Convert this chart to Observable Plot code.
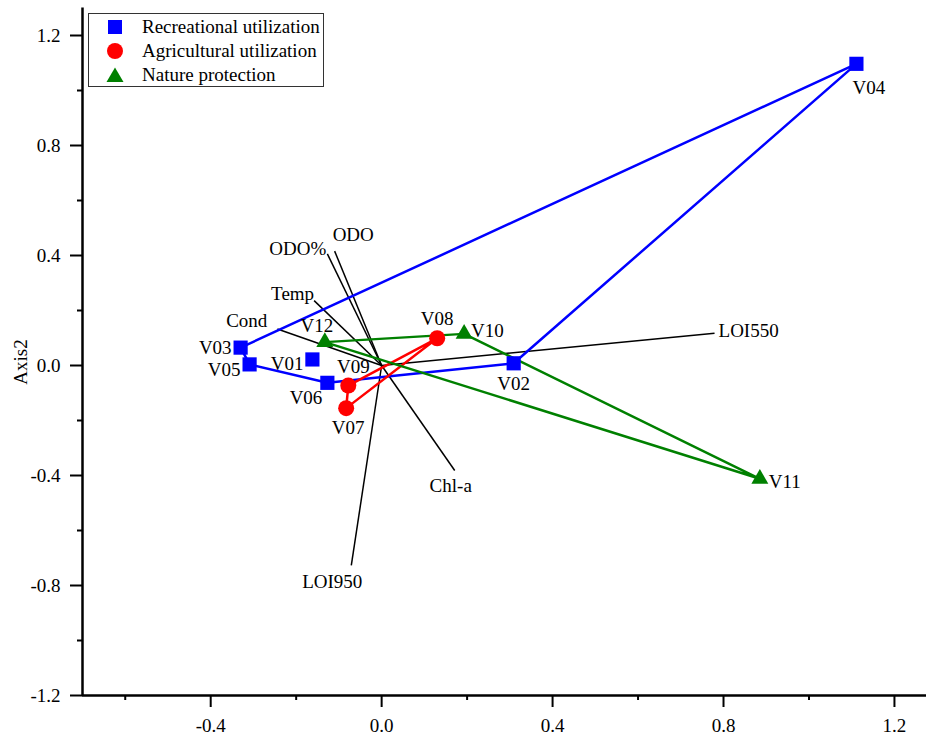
<!DOCTYPE html>
<html>
<head>
<meta charset="utf-8">
<script src="https://cdn.jsdelivr.net/npm/d3@7"></script>
<script src="https://cdn.jsdelivr.net/npm/@observablehq/plot@0.6"></script>
<style>
  html, body { margin: 0; padding: 0; background: #fff; }
  #wrap { position: relative; width: 926px; height: 738px; font-family: "Liberation Serif", "Times New Roman", serif; }
  #wrap > svg { position: absolute; left: 0; top: 0; }
  #legend { position: absolute; left: 88px; top: 13px; width: 236px; height: 74px; border: 1px solid #333; background: #fff; box-sizing: border-box; }
  .li { position: absolute; left: 0; height: 24px; width: 100%; font-size: 19px; line-height: 24px; color: #000; }
  .li svg { position: absolute; left: 16px; top: 3px; }
  .li span { position: absolute; left: 53px; top: 0; white-space: nowrap; }
  #ylab { position: absolute; left: 20px; top: 362px; font-size: 19px; line-height: 19px; white-space: nowrap; color: #000;
          transform: translate(-50%, -50%) rotate(-90deg); }
</style>
</head>
<body>
<div id="wrap"></div>
<script>
// ---- data ----
const groups = ["Recreational utilization", "Agricultural utilization", "Nature protection"];
const groupColors = ["#0000ff", "#ff0000", "#008000"];
const sites = ["V01","V02","V03","V04","V05","V06","V07","V08","V09","V10","V11","V12"];
const siteGroup = ["Recreational utilization","Recreational utilization","Recreational utilization","Recreational utilization","Recreational utilization","Recreational utilization","Agricultural utilization","Agricultural utilization","Agricultural utilization","Nature protection","Nature protection","Nature protection"];
const axis1 = [-0.162, 0.309, -0.330, 1.111, -0.309, -0.127, -0.083, 0.130, -0.078, 0.193, 0.885, -0.133];
const axis2 = [0.022, 0.008, 0.065, 1.097, 0.004, -0.063, -0.155, 0.099, -0.073, 0.115, -0.412, 0.085];

const variables = ["ODO", "ODO%", "Temp", "Cond", "LOI550", "LOI950", "Chl-a"];
const varAxis1 = [-0.110, -0.127, -0.158, -0.244, 0.779, -0.071, 0.171];
const varAxis2 = [0.416, 0.406, 0.236, 0.133, 0.117, -0.727, -0.382];

const xMajorTicks = [-0.4, 0.0, 0.4, 0.8, 1.2];
const xMinorTicks = [-0.6, -0.2, 0.2, 0.6, 1.0];
const yMajorTicks = [-1.2, -0.8, -0.4, 0.0, 0.4, 0.8, 1.2];
const yMinorTicks = [-1.0, -0.6, -0.2, 0.2, 0.6, 1.0];
const yLabel = "Axis2";

// ---- build ----
const rows = sites.map((s, i) => ({site: s, x: axis1[i], y: axis2[i], group: siteGroup[i]}));
const vecs = variables.map((v, i) => ({name: v, x: varAxis1[i], y: varAxis2[i]}));

// label placement (pixel offsets)
const siteLabelPos = {
  V01: [-9, 4, "end"], V02: [0, 21, "middle"], V03: [-9, 0, "end"], V04: [-4, 24, "start"],
  V05: [-9, 6, "end"], V06: [-5, 15, "end"], V07: [2, 20, "middle"], V08: [0, -19, "middle"],
  V09: [5, -19, "middle"], V10: [7, -3, "start"], V11: [9, 3, "start"], V12: [-8, -16, "middle"]
};
const varLabelPos = {
  "ODO": [-2, -16, "start"], "ODO%": [-1, -5, "end"], "Temp": [0, -7, "end"], "Cond": [-10, -8, "end"],
  "LOI550": [4, -2, "start"], "LOI950": [-19, 16, "middle"], "Chl-a": [-4, 15, "middle"]
};
const symbolOf = {"Recreational utilization": ["square", 8], "Agricultural utilization": ["circle", 8], "Nature protection": ["triangle", 6.3]};

const fmt = d => d.toFixed(1);
const marks = [
  Plot.link(vecs, {x1: 0, y1: 0, x2: "x", y2: "y", stroke: "#000", strokeWidth: 1.5}),
  Plot.hull(rows, {x: "x", y: "y", z: "group", stroke: "group", strokeWidth: 2.5}),
  ...groups.map(g => Plot.dot(rows.filter(d => d.group === g), {x: "x", y: "y", fill: "group", symbol: symbolOf[g][0], r: symbolOf[g][1], stroke: "none"})),
  ...rows.map(d => { const p = siteLabelPos[d.site]; return Plot.text([d], {x: "x", y: "y", text: "site", dx: p[0], dy: p[1], textAnchor: p[2], fontSize: 19, fill: "#000"}); }),
  ...vecs.map(d => { const p = varLabelPos[d.name]; return Plot.text([d], {x: "x", y: "y", text: "name", dx: p[0], dy: p[1], textAnchor: p[2], fontSize: 19, fill: "#000"}); }),
  Plot.axisX(xMajorTicks, {anchor: "bottom", tickSize: 12, tickPadding: 11, tickFormat: fmt, strokeWidth: 2, fontSize: 19, label: null}),
  Plot.axisX(xMinorTicks, {anchor: "bottom", tickSize: 5, tickFormat: () => "", strokeWidth: 2, label: null}),
  Plot.axisY(yMajorTicks, {anchor: "left", tickSize: 12, tickPadding: 10, tickFormat: fmt, strokeWidth: 2, fontSize: 19, label: null}),
  Plot.axisY(yMinorTicks, {anchor: "left", tickSize: 5, tickFormat: () => "", strokeWidth: 2, label: null}),
  Plot.ruleY([-1.2], {stroke: "#000", strokeWidth: 2.5}),
  Plot.ruleX([-0.7], {y1: -1.2, y2: 1.3, stroke: "#000", strokeWidth: 2.5})
];

const chart = Plot.plot({
  width: 926,
  height: 738,
  marginLeft: 82,
  marginRight: 0,
  marginTop: 7.5,
  marginBottom: 43,
  x: {domain: [-0.7, 1.275]},
  y: {domain: [-1.2, 1.3]},
  color: {domain: groups, range: groupColors},
  style: {fontFamily: "'Liberation Serif', 'Times New Roman', serif", fontSize: "19px", background: "#fff", color: "#000"},
  marks
});
const wrap = document.getElementById("wrap");
wrap.appendChild(chart);

// y-axis title
const ylab = document.createElement("div");
ylab.id = "ylab";
ylab.textContent = yLabel;
wrap.appendChild(ylab);

// legend (inside plot area, HTML overlay)
const legend = document.createElement("div");
legend.id = "legend";
const legendSyms = [
  '<svg width="20" height="18"><rect x="3" y="2" width="14" height="14" fill="#0000ff"/></svg>',
  '<svg width="20" height="18"><circle cx="10" cy="9" r="8" fill="#ff0000"/></svg>',
  '<svg width="20" height="18"><polygon points="10,1.5 18.5,16 1.5,16" fill="#008000"/></svg>'
];
groups.forEach((g, i) => {
  const row = document.createElement("div");
  row.className = "li";
  row.style.top = (1 + i * 24) + "px";
  row.innerHTML = legendSyms[i] + "<span>" + g + "</span>";
  legend.appendChild(row);
});
wrap.appendChild(legend);
</script>
</body>
</html>
